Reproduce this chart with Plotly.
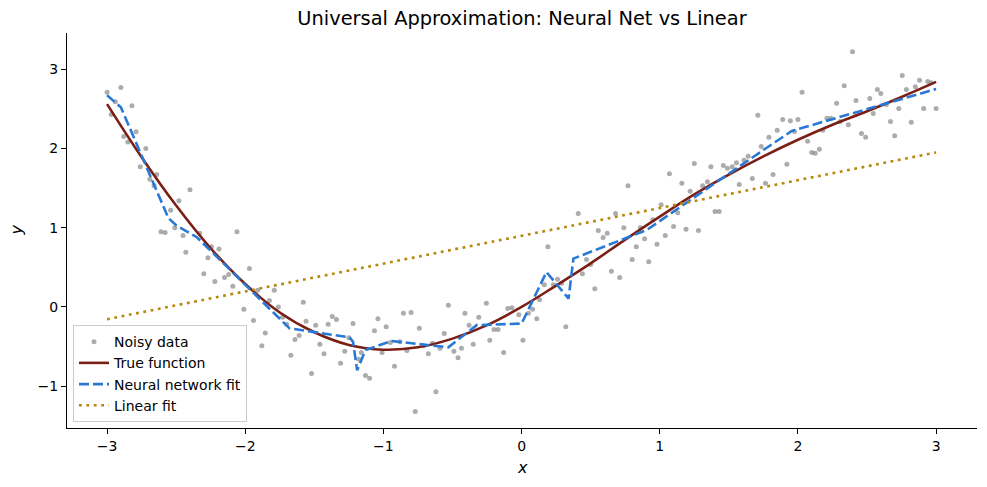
import plotly.graph_objects as go

# Noisy data
data_x = [-3.00,-2.90,-2.94,-2.97,-2.82,-2.79,-2.88,-2.85,-2.72,-2.76,-2.64,-2.69,-2.66,-2.40,-2.48,-2.54,-2.51,-2.61,-2.58,-2.45,-2.33,-2.06,
          -2.245,-2.19,-2.43,-2.27,-2.30,-2.12,-2.15,-2.22,-1.97,-2.09,-1.91,-1.79,-1.825,-2.01,-1.58,-1.94,-1.73,-1.70,-1.56,-1.855,-1.61,-1.64,-1.88,-1.67,-1.76,
          -1.49,-1.40,-1.37,-1.34,-1.46,-1.43,-1.52,-1.22,-1.25,-1.28,-1.31,-1.18,-1.16,-1.13,-1.10,-1.04,-1.065,-0.98,-1.01,-0.92,-0.95,-0.88,-0.855,-0.80,-0.83,-0.74,-0.77,-0.71,-0.675,-0.645,-0.62,-0.59,-0.56,-0.53,-0.49,-0.46,-0.435,-0.41,-0.38,-0.35,-0.31,-0.255,-0.23,-0.20,-0.17,-0.13,-0.10,-0.07,-0.02,0.01,0.05,0.08,0.11,0.13,
          0.32,0.165,0.23,0.26,0.29,0.19,0.44,0.47,0.50,0.53,0.41,0.555,0.59,0.62,0.65,0.71,0.68,0.74,0.77,0.80,0.83,0.86,0.89,0.92,0.95,0.98,1.01,1.04,1.07,1.10,1.13,1.16,1.19,1.22,1.25,1.28,1.31,1.345,1.37,1.40,1.43,1.46,1.49,1.525,1.555,1.575,
          1.61,1.64,1.67,1.71,1.735,1.765,1.79,1.82,1.85,1.89,1.92,1.945,1.975,2.00,2.03,2.07,2.10,2.125,2.155,2.18,2.21,2.24,2.28,2.305,2.335,2.365,2.395,2.42,2.46,2.49,2.52,2.545,2.575,2.60,2.64,2.67,2.70,2.73,2.755,2.785,2.82,2.85,2.88,2.91,2.94,2.965,3.00]
data_y = [2.71,2.77,2.59,2.43,2.54,2.21,2.15,2.08,2.00,1.77,1.67,1.61,1.53,1.48,1.34,1.22,1.00,0.95,0.94,0.90,0.93,0.95,
          0.76,0.73,0.69,0.62,0.42,0.41,0.37,0.32,0.485,0.26,0.21,0.21,0.08,-0.03,0.06,-0.17,-0.13,-0.22,-0.18,-0.33,-0.36,-0.41,-0.49,-0.61,0.0,
          -0.23,-0.22,-0.12,-0.16,-0.47,-0.59,-0.84,-0.21,-0.39,-0.56,-0.71,-0.66,-0.575,-0.865,-0.90,-0.15,-0.30,-0.25,-0.575,-0.75,-0.45,-0.44,-0.08,-0.07,-0.55,-0.27,-1.32,-0.49,-0.59,-0.46,-1.07,-0.52,-0.335,0.02,-0.56,-0.64,-0.52,-0.08,-0.23,-0.47,-0.13,0.045,-0.42,-0.285,-0.285,-0.575,-0.02,-0.01,-0.10,-0.42,-0.08,-0.03,-0.15,0.09,
          -0.25,0.28,0.28,0.35,0.30,0.76,0.42,0.60,0.535,0.23,1.18,0.965,0.875,0.93,0.45,0.37,1.18,1.00,1.53,0.60,0.76,1.00,0.86,0.57,1.10,0.79,1.29,0.90,1.68,1.015,1.19,1.56,0.98,1.46,1.81,0.965,1.53,1.58,1.77,1.205,1.205,1.785,1.75,1.77,1.82,1.545,
          1.85,1.90,1.62,2.42,2.025,1.56,2.14,1.67,2.23,2.365,1.80,2.35,2.215,2.365,2.71,2.09,1.95,1.94,1.99,2.23,2.38,2.38,2.57,2.34,2.79,2.30,3.22,2.605,2.19,2.14,2.63,2.44,2.745,2.695,2.555,2.34,2.16,2.505,2.92,2.745,2.33,2.78,2.86,2.505,2.845,2.83,2.505]

# True function (read at regular x positions)
true_x = [-3.0,-2.75,-2.5,-2.25,-2.0,-1.75,-1.5,-1.25,-1.0,-0.75,-0.5,-0.25,0.0,0.25,0.5,0.75,1.0,1.25,1.5,1.75,2.0,2.25,2.5,2.75,3.0]
true_y = [2.56,1.89,1.28,0.74,0.29,-0.07,-0.32,-0.48,-0.54,-0.51,-0.40,-0.23,0.0,0.27,0.55,0.85,1.14,1.42,1.67,1.90,2.11,2.30,2.47,2.65,2.84]

# Neural network fit (piecewise-linear vertices)
nn_x = [-3.00,-2.90,-2.556,-2.50,-2.35,-1.68,-1.245,-1.22,-1.19,-1.13,-0.94,-0.53,-0.325,0.0,0.18,0.34,0.375,0.71,0.905,1.75,1.955,2.23,2.57,3.00]
nn_y = [2.67,2.52,1.12,1.03,0.88,-0.27,-0.385,-0.44,-0.80,-0.545,-0.43,-0.51,-0.23,-0.21,0.44,0.105,0.61,0.84,0.97,1.98,2.22,2.36,2.53,2.75]

# Linear fit
lin_x = [-3.0, 3.0]
lin_y = [-0.155, 1.95]

FONT = "DejaVu Sans"
W, H = 979, 479

fig = go.Figure()
fig.add_trace(go.Scatter(x=data_x, y=data_y, mode="markers", name="Noisy data",
                         marker=dict(color="rgba(128,128,128,0.65)", size=5, line=dict(width=0))))
fig.add_trace(go.Scatter(x=true_x, y=true_y, mode="lines", name="True function",
                         line=dict(color="#7b1f14", width=2.6, shape="spline", smoothing=1.0)))
fig.add_trace(go.Scatter(x=nn_x, y=nn_y, mode="lines", name="Neural network fit",
                         line=dict(color="#2a78d6", width=2.6, dash="10px,4px")))
fig.add_trace(go.Scatter(x=lin_x, y=lin_y, mode="lines", name="Linear fit",
                         line=dict(color="#b8860b", width=2.6, dash="2.8px,4.6px")))

axis_common = dict(showgrid=False, zeroline=False, showline=True, linecolor="black", linewidth=1,
                   ticks="outside", ticklen=5, tickwidth=1, tickcolor="black", automargin=False,
                   tickfont=dict(family=FONT, size=14, color="black"), mirror=False)

fig.update_layout(
    width=W, height=H,
    margin=dict(l=59, r=10, t=25, b=59, autoexpand=False),
    paper_bgcolor="white", plot_bgcolor="white",
    font=dict(family=FONT, color="black"),
    title=dict(text="Universal Approximation: Neural Net vs Linear", x=0.5, xref="paper",
               y=1 - 10.5/H, yref="container", yanchor="middle", xanchor="center",
               font=dict(family=FONT, size=19.4, color="black")),
    xaxis=dict(range=[-3.29, 3.296], tickvals=[-3, -2, -1, 0, 1, 2, 3], **axis_common),
    yaxis=dict(range=[-1.528, 3.457], tickvals=[-1, 0, 1, 2, 3], **axis_common),
    legend=dict(x=0.0066, y=0.015, xanchor="left", yanchor="bottom",
                bgcolor="rgba(255,255,255,0.8)", bordercolor="#cccccc", borderwidth=1,
                font=dict(family=FONT, size=14, color="black"), itemwidth=30,
                tracegroupgap=0),
    showlegend=True,
    annotations=[
        dict(text="<i>x</i>", xref="paper", yref="paper", x=0.5, y=0, yshift=-39,
             xanchor="center", yanchor="middle", showarrow=False,
             font=dict(family=FONT, size=16, color="black")),
        dict(text="<i>y</i>", xref="paper", yref="paper", x=0, y=0.5, xshift=-51,
             xanchor="center", yanchor="middle", showarrow=False, textangle=-90,
             font=dict(family=FONT, size=16, color="black")),
    ],
)

fig.write_html("out.html")
